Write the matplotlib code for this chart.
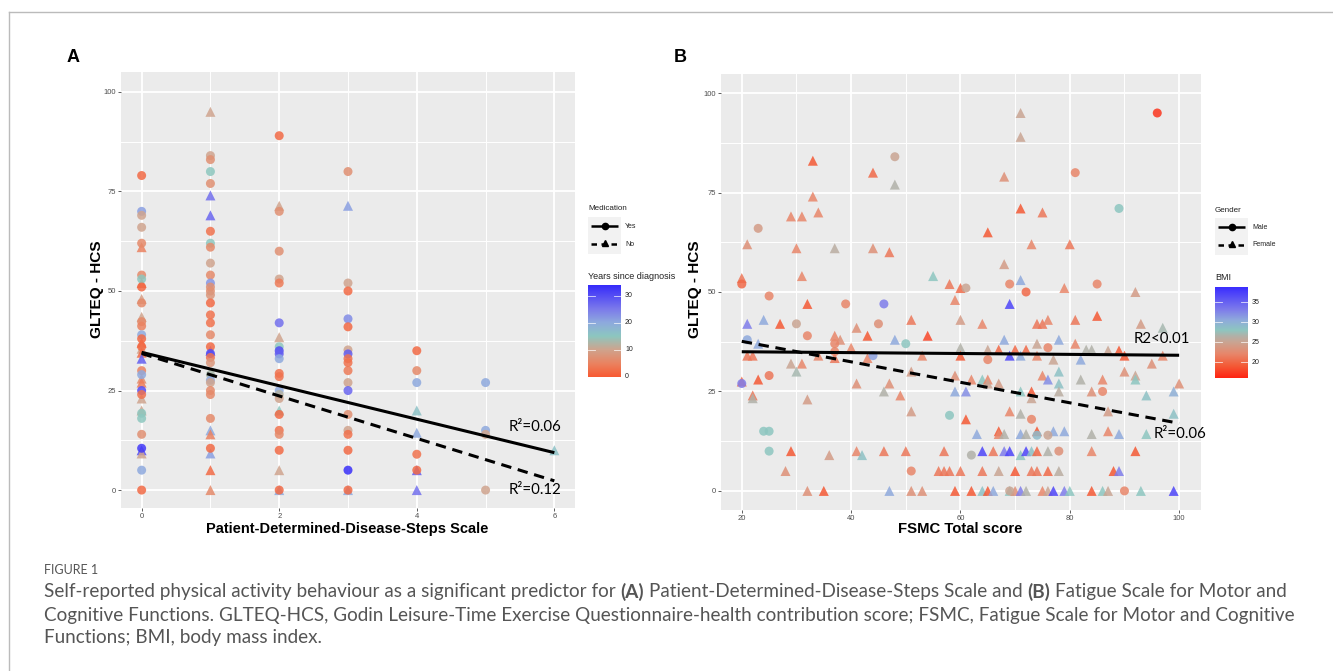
import matplotlib
matplotlib.use("Agg")
import matplotlib.pyplot as plt
import numpy as np
from matplotlib.colors import LinearSegmentedColormap, Normalize
from matplotlib.lines import Line2D
from matplotlib import font_manager

# ---------------- Panel A data: PDDS vs GLTEQ-HCS ----------------
a_pdds0_y = [79, 70, 69, 66, 62, 61, 54, 53, 52, 51, 48, 47, 43.5, 42.3, 41.2, 39, 38, 37, 36, 35.5,
             34.5, 33, 30, 29, 28, 27, 25, 24, 23, 20, 19.3, 18, 14, 10.5, 10, 9.2, 5, 0]
a_pdds0_med = list("YYYYYNYYNYNYNYYYYNYNNNYYNNYYNNYYYYNNYY")
a_pdds0_yrs = [2, 21, 10, 10, 6, 5, 6, 15, 2, 2, 9, 6, 10, 6, 5, 20, 2, 1, 2, 9,
               2, 28, 5, 20, 6, 4, 30, 3, 10, 10, 15, 15, 7, 32, 30, 10, 20, 2]

a_pdds1_y = [95, 84, 83, 80, 77, 74, 69, 65, 62, 61, 57, 54, 52, 51, 50, 49, 47, 44, 42, 39,
             36, 35, 34.3, 33.3, 32, 29, 27.6, 27, 25, 24, 18, 15, 14, 10.5, 9.2, 5, 0]
a_pdds1_med = list("NYYYYNNYYYYYYYYYYYYYYNYYYYYYYYYNNYNNN")
a_pdds1_yrs = [10, 10, 7, 15, 7, 26, 27, 3, 15, 6, 10, 6, 22, 7, 7, 8, 2, 3, 3, 6,
               2, 28, 30, 3, 8, 13, 20, 10, 6, 6, 6, 20, 5, 2, 21, 2, 6]

a_pdds2_y = [89, 71.4, 70, 60, 53, 52, 42, 38.4, 36, 35, 34.2, 33, 29.3, 28.5, 25, 24, 23, 20, 19, 15,
             14, 10, 5, 0, 0]
a_pdds2_med = list("YNYYYYYNYYYYYYYYYNYYYYNNY")
a_pdds2_yrs = [2, 10, 7, 7, 10, 4, 26, 10, 15, 30, 28, 20, 3, 3, 20, 12, 10, 15, 2, 3,
               6, 2, 10, 20, 2]

a_pdds3_y = [80, 71.4, 52, 50, 43, 41, 35.2, 34.2, 33, 32, 30, 27, 25, 19, 15, 14, 10, 5, 0, 0]
a_pdds3_med = list("YNYYYYYYYYYYYYYYYYNY")
a_pdds3_yrs = [7, 21, 10, 2, 23, 2, 10, 28, 3, 3, 4, 10, 27, 7, 10, 3, 2, 33, 20, 2]

a_pdds4_y = [35, 30, 27, 20, 14.4, 9, 5, 5, 0]
a_pdds4_med = list("YYYNNYYNN")
a_pdds4_yrs = [2, 6, 20, 16, 20, 3, 2, 28, 26]

a_pdds5_y = [27, 15, 14, 0]
a_pdds5_med = list("YYYY")
a_pdds5_yrs = [20, 20, 10, 10]

a_pdds6_y = [10]
a_pdds6_med = list("N")
a_pdds6_yrs = [16]

# linear fits (intercept, slope) shown in panel A
a_fit_yes = (34.6, -4.2)
a_fit_no = (34.3, -5.33)
a_r2_yes = "R²=0.06"
a_r2_no = "R²=0.12"

# ---------------- Panel B data: FSMC vs GLTEQ-HCS ----------------
b_fsmc = [96, 71, 71, 48, 33, 81, 44, 68, 48, 33, 89, 71, 29, 31, 34, 75, 23, 65, 21, 30,
          37, 44, 47, 73, 80, 68, 31, 55, 20, 20, 71, 58, 69, 85, 60, 61, 72, 79, 92, 25,
          59, 32, 39, 46, 69, 21, 24, 27, 30, 41, 45, 51, 60, 64, 74, 75, 76, 81, 85, 93, 97,
          21, 23, 32, 37, 38, 37, 43, 48, 50, 54, 68, 78, 81, 74, 40, 60, 76,
          21, 22, 34, 37, 37, 44, 43, 53, 60, 65, 65, 67, 69, 71, 70, 72, 74, 77, 82, 83,
          84, 87, 89, 90, 97,
          29, 31, 30, 51, 95, 90, 78, 59, 75, 92,
          20, 20, 23, 25, 41, 47, 62, 64, 65, 65, 67, 76, 78, 82, 86, 92, 100,
          22, 22, 32, 46, 49, 59, 61, 71, 73, 73, 78, 84, 86, 94, 99,
          51, 69, 87, 71, 58, 61, 73, 99,
          24, 25, 63, 67, 67, 68, 71, 72, 74, 74, 76, 77, 79, 84, 87, 89, 94,
          25, 29, 36, 41, 42, 46, 50, 57, 62, 64, 66, 68, 69, 71, 72, 73, 74, 76, 78, 84, 92,
          28, 51, 56, 57, 58, 60, 64, 67, 70, 73, 74, 76, 78, 88, 89,
          32, 35, 47, 51, 53, 59, 62, 64, 65, 66, 69, 69, 70, 71, 72, 75, 76, 77, 79, 80,
          84, 86, 87, 90, 93, 99]
b_glteq = [95, 95, 89, 84, 83, 80, 80, 79, 77, 74, 71, 71, 69, 69, 70, 70, 66, 65, 62, 61,
           61, 61, 60, 62, 62, 57, 54, 54, 53.5, 52, 53, 52, 52, 52, 51, 51, 50, 51, 50, 49,
           48, 47, 47, 47, 47, 42, 43, 42, 42, 41, 42, 43, 43, 42, 42, 42, 43, 43, 44, 42, 41,
           38, 37, 39, 39, 38, 37, 39, 38, 37, 39, 38, 38, 37, 37, 36, 36, 36,
           34, 34, 34, 35, 33.4, 34, 33.4, 34, 34, 35.5, 33, 35.5, 34, 34, 35.5, 35.5, 34, 33, 33, 35.5,
           35.5, 35.3, 35.3, 34, 34,
           32, 32, 30, 30, 32, 30, 30, 29, 29, 29,
           27, 27.5, 28, 29, 27, 27, 28, 28, 28, 27, 27, 28, 27, 28, 28, 28, 27,
           24, 23.3, 23, 25, 24, 25, 25, 25, 25, 23.3, 25, 25, 25, 24, 25,
           20, 20, 20, 19.4, 19, 18, 18, 19.4,
           15, 15, 14.3, 15, 14.3, 14.3, 14.3, 14.3, 15, 14, 14, 15, 15, 14.3, 15, 14.3, 14.3,
           10, 10, 9, 10, 9, 10, 10, 10, 9, 10, 10, 10, 10, 9, 10, 10, 10, 10, 10, 10, 10,
           5, 5, 5, 5, 5, 5, 5, 5, 5, 5, 5, 5, 5, 5, 5,
           0, 0, 0, 0, 0, 0, 0, 0, 0, 0, 0, 0, 0, 0, 0, 0, 0, 0, 0, 0,
           0, 0, 0, 0, 0, 0]
b_gender = list("MFFMFMFFFFMFFFFFMFFFFFFFFFFFFMFFMMFMMFFMFFMMFFFFMFMFFFFFFFFFF"
                "MFMFFMFFMFFFFFFFM"
                "FFFMFMFFFFMFFFFFFFFFFFFFF"
                "FFFFFFFFFF"
                "MFFMFFFFFFFFFFFFF"
                "FFFFFFFFFFFFMFF"
                "FFFFMFMF"
                "MMFFFFFFFMMFFFFFF"
                "MFFFFFFFMFFFFFFFFFMFF"
                "FMFFFFFFFFFFFFF"
                "FFFFFFFFFFFMFFFFFFFFFFFMFF")
b_bmi = [17, 25, 25, 25, 19, 22, 20, 23, 26.5, 22, 28, 19, 22, 22, 22, 21, 24, 19, 23, 22,
         26, 23, 21, 22, 21, 24, 22, 28, 21, 20, 30.5, 21, 22, 22, 20, 25, 20, 22, 24, 22,
         22, 19, 22, 33, 37, 33, 30.5, 19, 25, 23, 23, 21, 24, 22, 21, 21, 22, 21, 19, 24, 27,
         30.5, 30.5, 22, 22, 23, 22, 19, 30.5, 28, 18, 30.5, 30.5, 22, 25, 22, 26.5, 22,
         21, 21, 22, 22, 21, 31, 22, 22, 19, 25, 22, 20, 37, 30.5, 20, 20, 22, 25, 30.5, 26.5,
         26.5, 25, 19, 19, 22,
         25, 22, 27, 24, 23, 23, 28.5, 23, 22, 25,
         33, 20, 19, 21, 23, 23, 22, 28, 22, 25, 24, 32, 28.5, 26.5, 22, 28, 23,
         21, 26.5, 24, 26.5, 22, 30.5, 32, 28, 19, 25, 26, 23, 22, 28.5, 30,
         24, 22, 24, 26.5, 28, 19, 22, 28.5,
         28, 28, 30.5, 19, 22, 26.5, 30.5, 26.5, 19, 29, 25, 30.5, 30.5, 26.5, 22, 30.5, 28,
         28, 19, 24, 22, 28.5, 21, 21, 21, 26.5, 37, 21, 33, 37, 28, 37, 28.5, 20, 26.5, 23, 22, 19,
         23, 22, 21, 21, 21, 21, 21, 25, 19, 21, 21, 20, 26, 19, 33,
         23, 19, 30.5, 23, 23, 19, 19, 28.5, 19, 30.5, 28, 25, 23, 33, 26.5, 22, 25, 37, 33, 28,
         19, 28, 25, 22, 28, 37]

b_fit_male = (35.2, -0.011)
b_fit_female = (42.75, -0.2575)
b_r2_male = "R2<0.01"
b_r2_female = "R²=0.06"

caption_title = "FIGURE 1"
caption_lines = [
    [("Self-reported physical activity behaviour as a significant predictor for", "normal"),
     ("(A)", "bold"), ("Patient-Determined-Disease-Steps Scale and", "normal"),
     ("(B)", "bold"), ("Fatigue Scale for Motor and", "normal")],
    [("Cognitive Functions. GLTEQ-HCS, Godin Leisure-Time Exercise Questionnaire-health "
      "contribution score; FSMC, Fatigue Scale for Motor and Cognitive", "normal")],
    [("Functions; BMI, body mass index.", "normal")],
]

# ---------------- assemble panel A arrays ----------------
a_cols = [(0, a_pdds0_y, a_pdds0_med, a_pdds0_yrs), (1, a_pdds1_y, a_pdds1_med, a_pdds1_yrs),
          (2, a_pdds2_y, a_pdds2_med, a_pdds2_yrs), (3, a_pdds3_y, a_pdds3_med, a_pdds3_yrs),
          (4, a_pdds4_y, a_pdds4_med, a_pdds4_yrs), (5, a_pdds5_y, a_pdds5_med, a_pdds5_yrs),
          (6, a_pdds6_y, a_pdds6_med, a_pdds6_yrs)]
a_x, a_y, a_m, a_c = [], [], [], []
for xv, ys, ms, cs in a_cols:
    a_x += [xv] * len(ys); a_y += ys; a_m += ms; a_c += cs
a_x, a_y, a_m, a_c = map(np.array, (a_x, a_y, a_m, a_c))
b_x, b_y, b_g, b_c = map(np.array, (b_fsmc, b_glteq, b_gender, b_bmi))

# ---------------- figure ----------------
W, H = 1333, 671
fig = plt.figure(figsize=(W / 100, H / 100), dpi=100)
fig.patch.set_facecolor("white")
renderer = fig.canvas.get_renderer()

avail = {f.name for f in font_manager.fontManager.ttflist}
narrow = "Liberation Sans Narrow" if "Liberation Sans Narrow" in avail else "Liberation Sans"
body = "Lato" if "Lato" in avail else "DejaVu Sans"


def rect(l, t, r, b):
    return [l / W, 1 - b / H, (r - l) / W, (b - t) / H]


def fxy(px, py):
    return px / W, 1 - py / H


years_cmap = LinearSegmentedColormap.from_list("years", [
    (0.0, "#F85A32"), (5 / 34, "#EA8361"), (10 / 34, "#CFA48E"), (15 / 34, "#8CC7C0"),
    (20 / 34, "#8EA9DE"), (25 / 34, "#7B79EB"), (1.0, "#3328FB")])
years_norm = Normalize(0, 34)
bmi_lo, bmi_hi = 16, 38.75
bmi_nodes = [(16, "#FF2412"), (19, "#F45A36"), (22, "#E8866A"), (25, "#C9A593"),
             (26.5, "#B2B1A8"), (28, "#8DC6C0"), (30.5, "#8FAADC"), (33, "#7F7EEA"),
             (38.75, "#3A2DFF")]
bmi_cmap = LinearSegmentedColormap.from_list(
    "bmi", [((v - bmi_lo) / (bmi_hi - bmi_lo), c) for v, c in bmi_nodes])
bmi_norm = Normalize(bmi_lo, bmi_hi)


def style(ax, xlim, ylim, xmaj, xmin, ymaj, ymin):
    ax.set_facecolor("#EBEBEB")
    ax.set_xlim(xlim); ax.set_ylim(ylim)
    ax.set_xticks(xmaj); ax.set_xticks(xmin, minor=True)
    ax.set_yticks(ymaj); ax.set_yticks(ymin, minor=True)
    ax.grid(which="major", color="white", lw=1.3)
    ax.grid(which="minor", color="white", lw=0.7)
    ax.set_axisbelow(True)
    for s in ax.spines.values():
        s.set_visible(False)
    ax.tick_params(which="major", length=2, width=0.6, color="#444444", labelsize=5.5,
                   labelcolor="#4D4D4D", pad=1.5)
    ax.tick_params(which="minor", length=0)
    for lab in ax.get_xticklabels() + ax.get_yticklabels():
        lab.set_family(narrow)


def scatter(ax, x, y, col, cmap, norm, marker, s):
    ax.scatter(x, y, c=col, cmap=cmap, norm=norm, marker=marker, s=s, alpha=0.85,
               linewidths=0, zorder=3)


# Panel A
axA = fig.add_axes(rect(121, 72, 575, 508))
style(axA, (-0.3, 6.3), (-4.5, 105), [0, 2, 4, 6], [1, 3, 5], [0, 25, 50, 75, 100],
      [12.5, 37.5, 62.5, 87.5])
yes = a_m == "Y"
scatter(axA, a_x[~yes], a_y[~yes], a_c[~yes], years_cmap, years_norm, "^", 52)
scatter(axA, a_x[yes], a_y[yes], a_c[yes], years_cmap, years_norm, "o", 42)
xs = np.array([0, 6])
axA.plot(xs, a_fit_yes[0] + a_fit_yes[1] * xs, color="black", lw=2.2, zorder=4,
         solid_capstyle="butt")
axA.plot(xs, a_fit_no[0] + a_fit_no[1] * xs, color="black", lw=2.2, zorder=4,
         dashes=(3.4, 2.2))
axA.text(6.1, 15.9, a_r2_yes, ha="right", va="center", fontsize=10.8, family=body, zorder=5)
axA.text(6.1, 0, a_r2_no, ha="right", va="center", fontsize=10.8, family=body, zorder=5)

# Panel B
axB = fig.add_axes(rect(721, 74, 1201, 510))
style(axB, (16.2, 104), (-4.8, 104.8), [20, 40, 60, 80, 100], [30, 50, 70, 90],
      [0, 25, 50, 75, 100], [12.5, 37.5, 62.5, 87.5])
male = b_g == "M"
scatter(axB, b_x[~male], b_y[~male], b_c[~male], bmi_cmap, bmi_norm, "^", 52)
scatter(axB, b_x[male], b_y[male], b_c[male], bmi_cmap, bmi_norm, "o", 42)
xs = np.array([20, 100])
axB.plot(xs, b_fit_male[0] + b_fit_male[1] * xs, color="black", lw=2.2, zorder=4,
         solid_capstyle="butt")
axB.plot(xs, b_fit_female[0] + b_fit_female[1] * xs, color="black", lw=2.2, zorder=4,
         dashes=(3.4, 2.2))
axB.text(102, 38.2, b_r2_male, ha="right", va="center", fontsize=10.8, family=body, zorder=5)
axB.text(95.3, 14.3, b_r2_female, ha="left", va="center", fontsize=10.8, family=body,
         zorder=5, clip_on=False)


def fit_width(t, target, rotated=False):
    bb = t.get_window_extent(renderer)
    w = bb.height if rotated else bb.width
    t.set_fontsize(t.get_fontsize() * target / w)


# axis labels
t = fig.text(*fxy(347, 529), "Patient-Determined-Disease-Steps Scale", ha="center", va="center",
             fontsize=10, weight="bold", family=narrow)
fit_width(t, 281)
t = fig.text(*fxy(960, 529), "FSMC Total score", ha="center", va="center", fontsize=10,
             weight="bold", family=narrow)
fit_width(t, 124)
for px in (97, 695):
    t = fig.text(*fxy(px, 289), "GLTEQ - HCS", ha="center", va="center", rotation=90,
                 fontsize=10, weight="bold", family=narrow)
    fit_width(t, 98, rotated=True)

# panel letters
fig.text(*fxy(73, 58), "A", ha="center", va="center", fontsize=13, weight="bold",
         family="Liberation Sans")
fig.text(*fxy(680, 58), "B", ha="center", va="center", fontsize=13, weight="bold",
         family="Liberation Sans")


# legends
def shape_legend(x0, title, labels, title_y):
    fig.text(*fxy(x0, title_y), title, ha="left", va="center", fontsize=5.8, color="#222222",
             family=narrow)
    k = fig.add_axes(rect(x0, title_y + 8, x0 + 33, title_y + 45))
    k.set_facecolor("#F2F2F2")
    k.set_xlim(0, 1); k.set_ylim(0, 2)
    k.set_xticks([]); k.set_yticks([])
    for s in k.spines.values():
        s.set_visible(False)
    k.plot([0.08, 0.92], [1.5, 1.5], color="black", lw=1.8, solid_capstyle="butt")
    k.plot([0.5], [1.5], "o", color="black", ms=4.5)
    k.plot([0.08, 0.92], [0.55, 0.55], color="black", lw=1.8, dashes=(2.2, 1.8))
    k.plot([0.5], [0.6], "^", color="black", ms=5)
    for lab, yy in zip(labels, (title_y + 17, title_y + 35)):
        fig.text(*fxy(x0 + 37, yy), lab, ha="left", va="center", fontsize=5, color="#222222",
                 family=narrow)


def color_legend(x0, title, title_y, top, bottom, cmap, vmin, vmax, ticks):
    fig.text(*fxy(x0, title_y), title, ha="left", va="center", fontsize=6.5, color="#222222",
             family=narrow)
    cb = fig.add_axes(rect(x0, top, x0 + 33, bottom))
    grad = np.linspace(vmin, vmax, 256).reshape(-1, 1)
    cb.imshow(grad, cmap=cmap, norm=Normalize(vmin, vmax), aspect="auto", origin="lower",
              extent=[0, 1, vmin, vmax])
    cb.set_xlim(0, 1); cb.set_ylim(vmin, vmax)
    cb.set_xticks([]); cb.set_yticks([])
    for s in cb.spines.values():
        s.set_visible(False)
    for tv in ticks:
        cb.plot([0, 0.2], [tv, tv], color="white", lw=0.6, alpha=0.8)
        cb.plot([0.8, 1], [tv, tv], color="white", lw=0.6, alpha=0.8)
        py = bottom - (tv - vmin) / (vmax - vmin) * (bottom - top)
        fig.text(*fxy(x0 + 37, py), str(tv), ha="left", va="center", fontsize=5,
                 color="#222222", family=narrow)


shape_legend(588, "Medication", ["Yes", "No"], 209)
color_legend(588, "Years since diagnosis", 277, 285, 377, years_cmap, 0, 34, [0, 10, 20, 30])
shape_legend(1215, "Gender", ["Male", "Female"], 210)
color_legend(1215, "BMI", 278, 287, 378, bmi_cmap, bmi_lo, bmi_hi, [20, 25, 30, 35])

# caption
fig.text(*fxy(44, 570), caption_title, ha="left", va="center", fontsize=9, color="#555555",
         family=body)


def width_of(s, size, weight):
    tt = fig.text(0, 0, s, fontsize=size, family=body, weight=weight)
    w = tt.get_window_extent(renderer).width
    tt.remove()
    return w


base = 10
w2 = sum(width_of(s, base, w) for s, w in caption_lines[1])
cap_size = base * 1251 / w2
space_w = width_of("a a", cap_size, "normal") - width_of("aa", cap_size, "normal")
for line, py in zip(caption_lines, (592, 615, 638)):
    x = 44
    for i, (s, weight) in enumerate(line):
        tt = fig.text(*fxy(x, py), s, ha="left", va="center", fontsize=cap_size, family=body,
                      weight=weight, color="#555555")
        x += tt.get_window_extent(renderer).width + space_w

# outer frame
frame = dict(transform=fig.transFigure, color="#BBBBBB", lw=1.0)
fig.add_artist(Line2D([9 / W, 9 / W], [0, 1 - 12 / H], **frame))
fig.add_artist(Line2D([9 / W, 1], [1 - 12 / H, 1 - 12 / H], **frame))

fig.savefig("out.png", dpi=100)
